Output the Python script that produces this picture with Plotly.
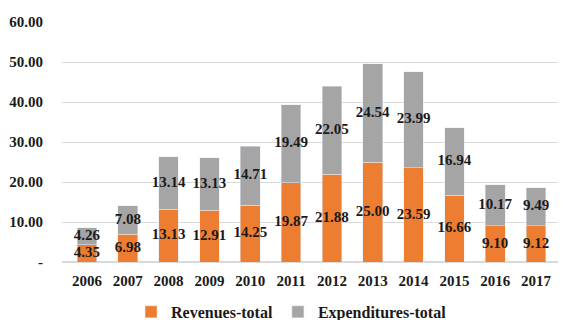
import plotly.graph_objects as go

years = ["2006", "2007", "2008", "2009", "2010", "2011", "2012", "2013", "2014", "2015", "2016", "2017"]
revenues = [4.35, 6.98, 13.13, 12.91, 14.25, 19.87, 21.88, 25.00, 23.59, 16.66, 9.10, 9.12]
expenditures = [4.26, 7.08, 13.14, 13.13, 14.71, 19.49, 22.05, 24.54, 23.99, 16.94, 10.17, 9.49]
y_ticks = [0, 10, 20, 30, 40, 50, 60]
y_tick_labels = ["-", "10.00", "20.00", "30.00", "40.00", "50.00", "60.00"]

FONT = "Liberation Serif"
ORANGE = "#ED7D31"
GRAY = "#A5A5A5"
TXT = "#1a1a1a"

fig = go.Figure()
fig.add_trace(go.Bar(x=years, y=revenues, name="Revenues-total", marker_color=ORANGE,
                     hoverinfo="skip"))
fig.add_trace(go.Bar(x=years, y=expenditures, name="Expenditures-total", marker_color=GRAY,
                     hoverinfo="skip"))

# data labels centred in each segment
rev_mid = [r / 2 for r in revenues]
exp_mid = [r + e / 2 for r, e in zip(revenues, expenditures)]
lbl_font = dict(family=FONT, size=15, color=TXT, weight="bold")
fig.add_trace(go.Scatter(x=years, y=rev_mid, mode="text", text=[f"{v:.2f}" for v in revenues],
                         textfont=lbl_font, showlegend=False, hoverinfo="skip", cliponaxis=False))
fig.add_trace(go.Scatter(x=years, y=exp_mid, mode="text", text=[f"{v:.2f}" for v in expenditures],
                         textfont=lbl_font, showlegend=False, hoverinfo="skip", cliponaxis=False))

fig.update_layout(
    width=558, height=312,
    barmode="stack", bargap=0.52,
    margin=dict(l=54, r=5, t=14, b=58, autoexpand=False),
    paper_bgcolor="white", plot_bgcolor="white",
    font=dict(family=FONT, size=15, color=TXT),
    legend=dict(orientation="h", x=0.46, xanchor="center", y=-0.208, yanchor="middle",
                font=dict(family=FONT, size=16, color=TXT, weight="bold"),
                itemwidth=30, traceorder="normal"),
    xaxis=dict(type="category", showgrid=False, showline=False, ticks="", automargin=False,
               ticklabelstandoff=8,
               tickfont=dict(family=FONT, size=15, weight="bold", color=TXT)),
    yaxis=dict(range=[0, 60], tickvals=y_ticks, ticktext=y_tick_labels, automargin=False,
               showgrid=True, gridcolor="#D9D9D9", gridwidth=1, zeroline=True,
               zerolinecolor="#D9D9D9", showline=False, ticks="", ticklabelstandoff=18,
               tickfont=dict(family=FONT, size=15, weight="bold", color=TXT)),
)

fig.write_html("out.html")
